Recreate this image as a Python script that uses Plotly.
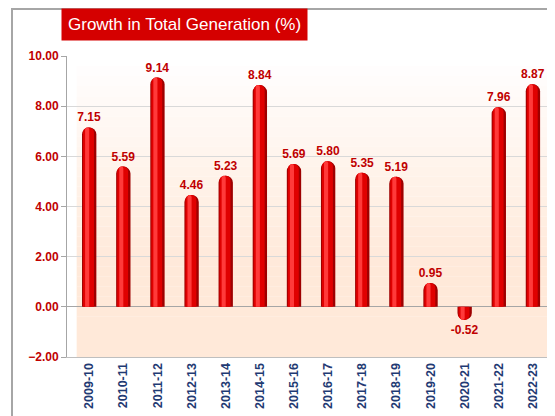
import plotly.graph_objects as go

years = ["2009-10", "2010-11", "2011-12", "2012-13", "2013-14", "2014-15", "2015-16",
         "2016-17", "2017-18", "2018-19", "2019-20", "2020-21", "2021-22", "2022-23"]
growth = [7.15, 5.59, 9.14, 4.46, 5.23, 8.84, 5.69, 5.80, 5.35, 5.19, 0.95, -0.52, 7.96, 8.87]
y_ticks = [-2, 0, 2, 4, 6, 8, 10]

# page body has an 8px margin, so the figure is drawn a bit smaller
W, H = 547, 408
L, R, T, B = 59, 5, 48, 59
PW, PH = W - L - R, H - T - B
red_txt = "#C00000"

fig = go.Figure()

# cylinder look: dark shell, red body, light streak
fig.add_trace(go.Bar(x=years, y=growth, width=0.42, marker_color="#9E0000",
                     marker_cornerradius="50%", marker_line_width=0,
                     text=[f"{v:.2f}" for v in growth], textposition="outside",
                     constraintext="none",
                     textfont=dict(family="Liberation Sans, Arial", size=12, color=red_txt, weight="bold"),
                     cliponaxis=False, hoverinfo="skip"))
fig.add_trace(go.Bar(x=years, y=growth, width=0.32, offset=-0.18, marker_color="#E00000",
                     marker_cornerradius="50%", marker_line_width=0, hoverinfo="skip"))
fig.add_trace(go.Bar(x=years, y=growth, width=0.12, offset=-0.12, marker_color="#FF3A3A",
                     marker_cornerradius="50%", marker_line_width=0, hoverinfo="skip"))

# background gradient white -> peach
shapes = []
n = 30
for i in range(n):
    t = i / (n - 1)
    f = min(1.0, t * 1.4)
    c = f"rgb(255,{int(255 - 22 * f)},{int(255 - 38 * f)})"
    shapes.append(dict(type="rect", xref="x domain", yref="y domain", layer="below",
                       x0=0.02, x1=1, y0=1 - (i + 1) / n, y1=1 - i / n,
                       fillcolor=c, line_width=0))
# outer frame
shapes.append(dict(type="rect", xref="paper", yref="paper",
                   x0=(4 - L) / PW, x1=1.1, y0=-(B + 10) / PH, y1=1 + (T - 1) / PH,
                   line=dict(color="#A6A6A6", width=2), fillcolor="rgba(0,0,0,0)"))

fig.update_layout(
    width=W, height=H,
    margin=dict(l=L, r=R, t=T, b=B),
    paper_bgcolor="white", plot_bgcolor="rgba(0,0,0,0)",
    barmode="overlay", showlegend=False,
    shapes=shapes,
    annotations=[dict(text="Growth in Total Generation (%)", xref="paper", yref="paper",
                      x=(53 - L) / PW, y=1 + T / PH, xanchor="left", yanchor="top",
                      showarrow=False, bgcolor="#D50000", borderpad=6,
                      font=dict(family="Liberation Sans, Arial", size=17, color="white"))],
)
fig.update_xaxes(type="category", range=[-0.65, 13.5], tickangle=-90,
                 tickfont=dict(family="Liberation Sans, Arial", size=12.5, color="#1F3A73", weight="bold"),
                 showline=True, linecolor="#BFBFBF", ticks="", showgrid=False)
fig.update_yaxes(range=[-2, 10], tickvals=y_ticks, tickformat=".2f",
                 tickfont=dict(family="Liberation Sans, Arial", size=12, color=red_txt, weight="bold"),
                 showline=True, linecolor="#A6A6A6", ticks="outside", ticklen=5, tickcolor="#A6A6A6",
                 gridcolor="#D9D9D9", zeroline=True, zerolinecolor="#A6A6A6", zerolinewidth=1)

fig.write_html("out.html")
